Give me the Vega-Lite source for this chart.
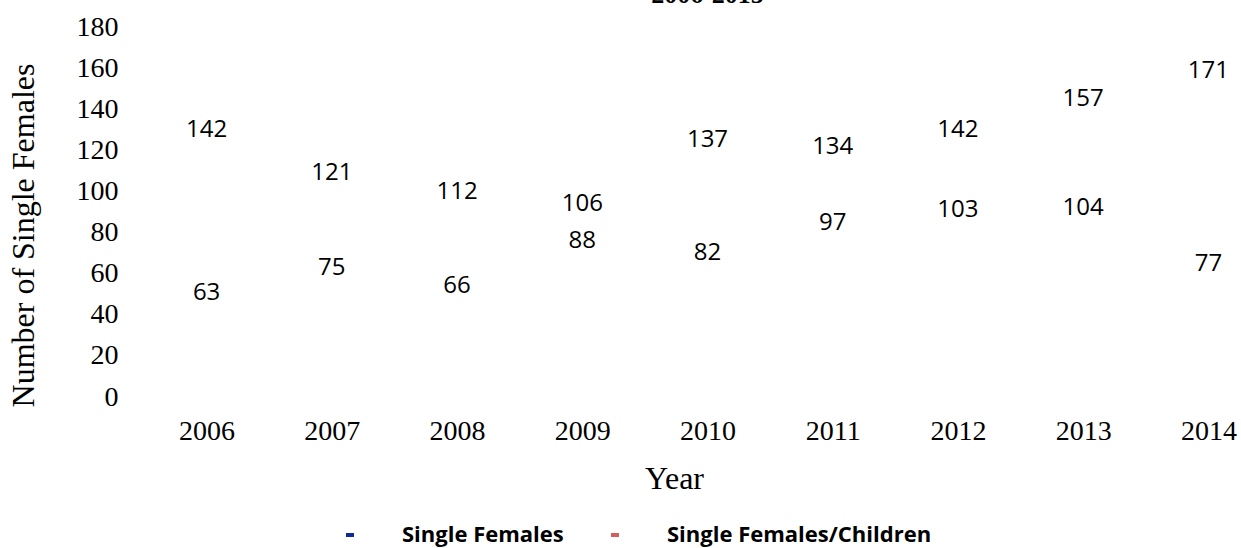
{
  "$schema": "https://vega.github.io/schema/vega-lite/v6.json",
  "autosize": {"type": "none"},
  "width": 1127,
  "height": 370,
  "padding": {"left": 144, "top": 27, "right": 0, "bottom": 151},
  "title": {"text": "2006-2015", "font": "Liberation Serif", "fontSize": 26, "fontWeight": "bold", "color": "#000", "anchor": "middle", "frame": "group", "baseline": "alphabetic", "offset": 8, "dy": 24},
  "config": {"view": {"stroke": null}, "background": "white"},
  "data": {"values": [
    {"year": "2006", "series": "Single Females", "value": 142},
    {"year": "2007", "series": "Single Females", "value": 121},
    {"year": "2008", "series": "Single Females", "value": 112},
    {"year": "2009", "series": "Single Females", "value": 106},
    {"year": "2010", "series": "Single Females", "value": 137},
    {"year": "2011", "series": "Single Females", "value": 134},
    {"year": "2012", "series": "Single Females", "value": 142},
    {"year": "2013", "series": "Single Females", "value": 157},
    {"year": "2014", "series": "Single Females", "value": 171},
    {"year": "2006", "series": "Single Females/Children", "value": 63},
    {"year": "2007", "series": "Single Females/Children", "value": 75},
    {"year": "2008", "series": "Single Females/Children", "value": 66},
    {"year": "2009", "series": "Single Females/Children", "value": 88},
    {"year": "2010", "series": "Single Females/Children", "value": 82},
    {"year": "2011", "series": "Single Females/Children", "value": 97},
    {"year": "2012", "series": "Single Females/Children", "value": 103},
    {"year": "2013", "series": "Single Females/Children", "value": 104},
    {"year": "2014", "series": "Single Females/Children", "value": 77}
  ]},
  "encoding": {
    "x": {"field": "year", "type": "ordinal", "scale": {"type": "point", "padding": 0.5},
      "axis": {"title": "Year", "labelAngle": 0, "labelFont": "Liberation Serif", "labelFontSize": 28, "labelColor": "#000", "labelPadding": 20, "domain": false, "ticks": false, "titleFont": "Liberation Serif", "titleFontSize": 32, "titleFontWeight": "normal", "titleColor": "#000", "titlePadding": 18, "titleX": 530}},
    "y": {"field": "value", "type": "quantitative", "scale": {"domain": [0, 180], "nice": false},
      "axis": {"title": "Number of Single Females", "values": [0,20,40,60,80,100,120,140,160,180], "grid": false, "domain": false, "ticks": false, "labelFont": "Liberation Serif", "labelFontSize": 28, "labelColor": "#000", "labelPadding": 26, "titleFont": "Liberation Serif", "titleFontSize": 32, "titleFontWeight": "normal", "titleColor": "#000", "titlePadding": 36, "titleY": 208}}
  },
  "layer": [
    {
      "mark": {"type": "line", "opacity": 0},
      "encoding": {
        "color": {"field": "series", "type": "nominal",
          "scale": {"domain": ["Single Females", "Single Females/Children"], "range": ["#0d2b96", "#d1605a"]},
          "legend": {"title": null, "orient": "none", "legendX": 195, "legendY": 497, "direction": "horizontal", "symbolType": "stroke", "symbolSize": 64, "symbolStrokeWidth": 4, "symbolOpacity": 1, "labelFont": "Open Sans", "labelFontSize": 22, "labelFontWeight": "bold", "labelColor": "#000", "labelOffset": 41, "labelLimit": 0, "columnPadding": 39}}
      }
    },
    {
      "mark": {"type": "text", "font": "Open Sans", "fontSize": 24, "color": "#000", "dy": 25},
      "encoding": {"text": {"field": "value", "type": "quantitative"}}
    }
  ]
}
